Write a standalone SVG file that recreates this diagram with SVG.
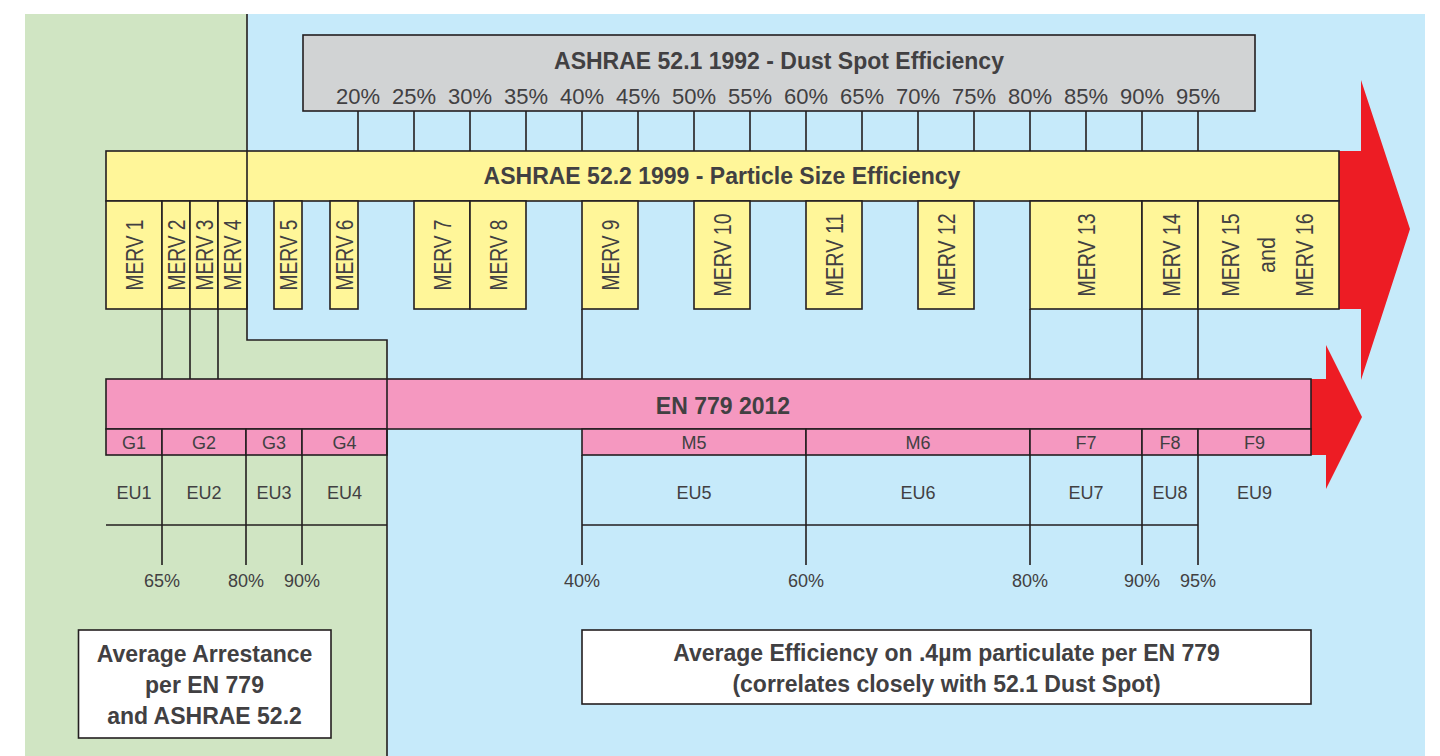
<svg xmlns="http://www.w3.org/2000/svg" width="1440" height="756" viewBox="0 0 1440 756">
<defs>
<style>
.ln{stroke:#231f20;stroke-width:1.6;fill:none}
.bx{stroke:#231f20;stroke-width:1.6}
.gray{fill:#d1d3d4}
.yel{fill:#fff699}
.pink{fill:#f598c0}
.wht{fill:#ffffff}
.red{fill:#ed1c24}
.t{font-family:"Liberation Sans",Arial,sans-serif;fill:#414042}
.pct{font-size:22px;text-anchor:middle}
.mv{font-size:23.5px;text-anchor:middle}
.sm{font-size:18px;text-anchor:middle}
.hd{font-size:23px;text-anchor:middle;font-weight:bold}
</style>
</defs>
<rect x="0" y="0" width="1440" height="756" fill="#ffffff"/>
<g id="background">
<rect x="25" y="14" width="1400" height="742" fill="#c6eafa"/>
<polygon points="25,14 247,14 247,340 387,340 387,756 25,756" fill="#d0e5c3"/>
</g>
<g id="arrows">
<polygon class="red" points="1339,151 1361,151 1361,80 1410,229 1361,380 1361,309 1339,309"/>
<polygon class="red" points="1311,379 1326,379 1326,345 1362,417 1326,489 1326,455 1311,455"/>
</g>
<g id="connectors">
<path class="ln" d="M358,111V151M414,111V151M470,111V151M526,111V151M582,111V151M638,111V151M694,111V151M750,111V151M806,111V151M862,111V151M918,111V151M974,111V151M1030,111V151M1086,111V151M1142,111V151M1198,111V151"/>
<path class="ln" d="M162,309V379M190,309V379M218,309V379M582,309V379M1030,309V379M1142,309V379M1198,309V379"/>
<path class="ln" d="M162,455V565M246,455V565M302,455V565M582,455V565M806,455V565M1030,455V565M1142,455V565M1198,455V565"/>
<path class="ln" d="M106,525H387M582,525H1198"/>
</g>
<g id="ashrae521">
<rect class="gray bx" x="303" y="35" width="952" height="76"/>
<text class="t hd" x="779" y="69">ASHRAE 52.1 1992 - Dust Spot Efficiency</text>
<g class="t pct">
<text x="358" y="104">20%</text><text x="414" y="104">25%</text><text x="470" y="104">30%</text><text x="526" y="104">35%</text>
<text x="582" y="104">40%</text><text x="638" y="104">45%</text><text x="694" y="104">50%</text><text x="750" y="104">55%</text>
<text x="806" y="104">60%</text><text x="862" y="104">65%</text><text x="918" y="104">70%</text><text x="974" y="104">75%</text>
<text x="1030" y="104">80%</text><text x="1086" y="104">85%</text><text x="1142" y="104">90%</text><text x="1198" y="104">95%</text>
</g>
</g>
<g id="ashrae522">
<rect class="yel bx" x="106" y="151" width="1233" height="50"/>
<text class="t hd" x="722" y="184">ASHRAE 52.2 1999 - Particle Size Efficiency</text>
</g>
<g id="merv">
<rect class="yel bx" x="106" y="201" width="56" height="108"/>
<rect class="yel bx" x="162" y="201" width="28" height="108"/>
<rect class="yel bx" x="190" y="201" width="28" height="108"/>
<rect class="yel bx" x="218" y="201" width="29" height="108"/>
<rect class="yel bx" x="274" y="201" width="28" height="108"/>
<rect class="yel bx" x="330" y="201" width="28" height="108"/>
<rect class="yel bx" x="414" y="201" width="56" height="108"/>
<rect class="yel bx" x="470" y="201" width="56" height="108"/>
<rect class="yel bx" x="582" y="201" width="56" height="108"/>
<rect class="yel bx" x="694" y="201" width="56" height="108"/>
<rect class="yel bx" x="806" y="201" width="56" height="108"/>
<rect class="yel bx" x="918" y="201" width="56" height="108"/>
<rect class="yel bx" x="1030" y="201" width="112" height="108"/>
<rect class="yel bx" x="1142" y="201" width="56" height="108"/>
<rect class="yel bx" x="1198" y="201" width="141" height="108"/>
<g class="t mv">
<text transform="translate(143,255) rotate(-90)" textLength="71" lengthAdjust="spacingAndGlyphs">MERV 1</text>
<text transform="translate(184.5,255) rotate(-90)" textLength="71" lengthAdjust="spacingAndGlyphs">MERV 2</text>
<text transform="translate(212.5,255) rotate(-90)" textLength="71" lengthAdjust="spacingAndGlyphs">MERV 3</text>
<text transform="translate(240.5,255) rotate(-90)" textLength="71" lengthAdjust="spacingAndGlyphs">MERV 4</text>
<text transform="translate(296.5,255) rotate(-90)" textLength="71" lengthAdjust="spacingAndGlyphs">MERV 5</text>
<text transform="translate(352.5,255) rotate(-90)" textLength="71" lengthAdjust="spacingAndGlyphs">MERV 6</text>
<text transform="translate(450.5,255) rotate(-90)" textLength="71" lengthAdjust="spacingAndGlyphs">MERV 7</text>
<text transform="translate(506.5,255) rotate(-90)" textLength="71" lengthAdjust="spacingAndGlyphs">MERV 8</text>
<text transform="translate(618.5,255) rotate(-90)" textLength="71" lengthAdjust="spacingAndGlyphs">MERV 9</text>
<text transform="translate(730.5,255) rotate(-90)" textLength="83" lengthAdjust="spacingAndGlyphs">MERV 10</text>
<text transform="translate(842.5,255) rotate(-90)" textLength="83" lengthAdjust="spacingAndGlyphs">MERV 11</text>
<text transform="translate(954.5,255) rotate(-90)" textLength="83" lengthAdjust="spacingAndGlyphs">MERV 12</text>
<text transform="translate(1095,255) rotate(-90)" textLength="83" lengthAdjust="spacingAndGlyphs">MERV 13</text>
<text transform="translate(1179.5,255) rotate(-90)" textLength="83" lengthAdjust="spacingAndGlyphs">MERV 14</text>
<text transform="translate(1238.5,255) rotate(-90)" textLength="83" lengthAdjust="spacingAndGlyphs">MERV 15</text>
<text transform="translate(1275,255) rotate(-90)" textLength="36" lengthAdjust="spacingAndGlyphs">and</text>
<text transform="translate(1313,255) rotate(-90)" textLength="83" lengthAdjust="spacingAndGlyphs">MERV 16</text>
</g>
</g>
<g id="en779">
<rect class="pink bx" x="106" y="379" width="1205" height="50"/>
<text class="t hd" x="723" y="414">EN 779 2012</text>
</g>
<g id="classes">
<rect class="pink bx" x="106" y="429" width="56" height="26"/>
<rect class="pink bx" x="162" y="429" width="84" height="26"/>
<rect class="pink bx" x="246" y="429" width="56" height="26"/>
<rect class="pink bx" x="302" y="429" width="85" height="26"/>
<rect class="pink bx" x="582" y="429" width="224" height="26"/>
<rect class="pink bx" x="806" y="429" width="224" height="26"/>
<rect class="pink bx" x="1030" y="429" width="112" height="26"/>
<rect class="pink bx" x="1142" y="429" width="56" height="26"/>
<rect class="pink bx" x="1198" y="429" width="113" height="26"/>
<g class="t sm">
<text x="134" y="449">G1</text><text x="204" y="449">G2</text><text x="274" y="449">G3</text><text x="344.5" y="449">G4</text>
<text x="694" y="449">M5</text><text x="918" y="449">M6</text><text x="1086" y="449">F7</text><text x="1170" y="449">F8</text><text x="1254.5" y="449">F9</text>
</g>
</g>
<g id="eu">
<g class="t sm">
<text x="134" y="499">EU1</text><text x="204" y="499">EU2</text><text x="274" y="499">EU3</text><text x="344.5" y="499">EU4</text>
<text x="694" y="499">EU5</text><text x="918" y="499">EU6</text><text x="1086" y="499">EU7</text><text x="1170" y="499">EU8</text><text x="1254.5" y="499">EU9</text>
</g>
</g>
<g id="percent-scale">
<g class="t sm">
<text x="162" y="587">65%</text><text x="246" y="587">80%</text><text x="302" y="587">90%</text>
<text x="582" y="587">40%</text><text x="806" y="587">60%</text><text x="1030" y="587">80%</text><text x="1142" y="587">90%</text><text x="1198" y="587">95%</text>
</g>
</g>
<g id="boundary">
<path class="ln" d="M247,14V340H387V756"/>
</g>
<g id="arrestance-note">
<rect class="wht bx" x="78.5" y="630" width="252.5" height="108"/>
<text class="t hd" x="204.5" y="662">Average Arrestance</text>
<text class="t hd" x="204.5" y="693">per EN 779</text>
<text class="t hd" x="204.5" y="724">and ASHRAE 52.2</text>
</g>
<g id="efficiency-note">
<rect class="wht bx" x="582" y="630" width="729" height="74"/>
<text class="t hd" x="946.5" y="661">Average Efficiency on .4µm particulate per EN 779</text>
<text class="t hd" x="946.5" y="692">(correlates closely with 52.1 Dust Spot)</text>
</g>
</svg>
